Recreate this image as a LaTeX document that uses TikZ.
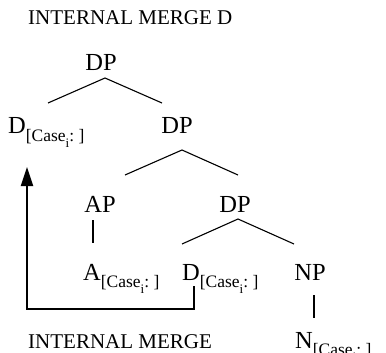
\documentclass[tikz,border=0pt]{standalone}
\usepackage{fontspec}
\setmainfont{Liberation Serif}
\usetikzlibrary{arrows.meta}
\newcommand{\mainsz}{\fontsize{24.5}{26}\selectfont}
\newcommand{\subsz}{\fontsize{17.5}{18}\selectfont}
\newcommand{\isz}{\fontsize{13}{14}\selectfont}
\newcommand{\lblsz}{\fontsize{21}{22}\selectfont}
\newcommand{\cs}[1]{#1\raisebox{-7pt}{\subsz[Case\raisebox{-6.5pt}{\isz i}:\ ]}}
\begin{document}
\begin{tikzpicture}[x=1pt,y=-1pt,
  cat/.style={inner sep=0pt,font=\mainsz,anchor=base},
  leaf/.style={inner sep=0pt,font=\mainsz,anchor=base west},
  lbl/.style={inner sep=0pt,font=\lblsz,anchor=base west},
  branch/.style={line width=1.1pt},
  movearrow/.style={line width=2pt,-{Triangle[length=19pt,width=12pt]}}]
\useasboundingbox (0,0) rectangle (386,353);
\node[lbl] (title) at (28,25) {INTERNAL MERGE D};
\node[cat] (dp1) at (101,71) {DP};
\node[leaf] (d1) at (8,134) {\cs{D}};
\node[cat] (dp2) at (177,134) {DP};
\node[cat] (ap) at (100,212) {AP};
\node[cat] (dp3) at (235,212) {DP};
\node[leaf] (a) at (83,280) {\cs{A}};
\node[leaf] (d2) at (182,280) {\cs{D}};
\node[cat] (np) at (310,280) {NP};
\node[leaf] (n) at (295,348) {\cs{N}};
\node[lbl] (im) at (28,348) {INTERNAL MERGE};
% branch points
\coordinate (dp1b) at (105,78);
\coordinate (d1t) at (48,103);
\coordinate (dp2t) at (162,103);
\coordinate (dp2b) at (182,150);
\coordinate (apt) at (125,175);
\coordinate (dp3t) at (238,175);
\coordinate (apb) at (93,220);
\coordinate (at) at (93,243);
\coordinate (dp3b) at (238,219);
\coordinate (d2t) at (182,244);
\coordinate (npt) at (294,244);
\coordinate (npb) at (314,295);
\coordinate (nt) at (314,318);
\draw[branch] (d1t) -- (dp1b) -- (dp2t);
\draw[branch] (apt) -- (dp2b) -- (dp3t);
\draw[branch] (apb) -- (at);
\draw[branch] (d2t) -- (dp3b) -- (npt);
\draw[branch] (npb) -- (nt);
% movement arrow
\coordinate (d2b) at (194,286);
\coordinate (c1) at (194,309);
\coordinate (c2) at (27,309);
\coordinate (d1b) at (27,167);
\draw[movearrow] (d2b) -- (c1) -- (c2) -- (d1b);
\end{tikzpicture}
\end{document}
